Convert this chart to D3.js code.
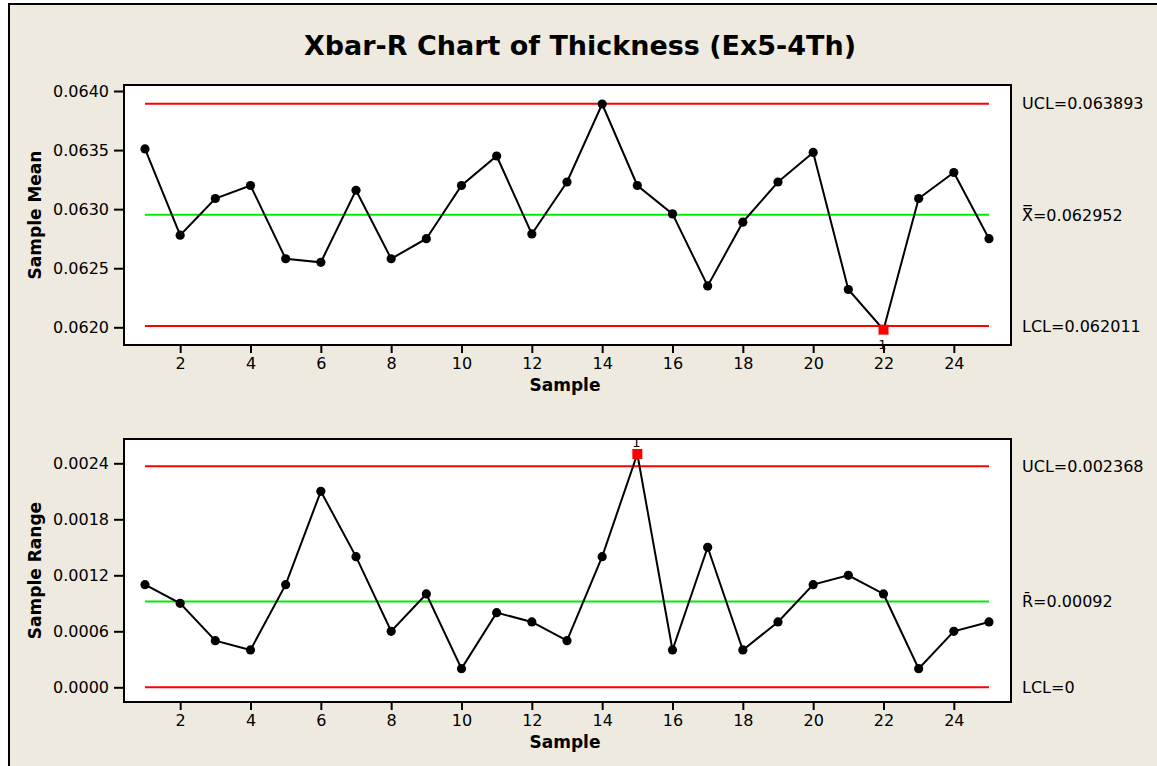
<!DOCTYPE html>
<meta charset="utf-8">
<style>
body { margin: 0; background: #fff; }
text { font-family: "DejaVu Sans", Verdana, sans-serif; fill: #000; }
.tick text { font-size: 16px; }
.tick line { stroke: #000; stroke-width: 2; }
.frame { fill: #fff; stroke: #000; stroke-width: 2; }
.limit { stroke: #ff0000; stroke-width: 2; }
.center { stroke: #00ee00; stroke-width: 2; }
.line { fill: none; stroke: #000; stroke-width: 2; }
.lbl { font-size: 16px; }
.axlbl { font-size: 17px; font-weight: bold; }
</style>
<body>
<div id="chart"></div>
<script src="https://d3js.org/d3.v7.min.js"></script>
<script>
// sample numbers
var samples = [1,2,3,4,5,6,7,8,9,10,11,12,13,14,15,16,17,18,19,20,21,22,23,24,25];
// sample means (Xbar)
var means = [0.06351, 0.06278, 0.06309, 0.06320, 0.06258, 0.06255, 0.06316, 0.06258, 0.06275, 0.06320,
             0.06345, 0.06279, 0.06323, 0.06389, 0.06320, 0.06296, 0.06235, 0.06289, 0.06323, 0.06348,
             0.06232, 0.06198, 0.06309, 0.06331, 0.06275];
// sample ranges (R)
var ranges = [0.0011, 0.0009, 0.0005, 0.0004, 0.0011, 0.0021, 0.0014, 0.0006, 0.0010, 0.0002,
              0.0008, 0.0007, 0.0005, 0.0014, 0.0025, 0.0004, 0.0015, 0.0004, 0.0007, 0.0011,
              0.0012, 0.0010, 0.0002, 0.0006, 0.0007];
// control limits
var xbarLimits = { ucl: 0.063893, cl: 0.062952, lcl: 0.062011 };
var rLimits = { ucl: 0.002368, cl: 0.00092, lcl: 0 };
var xTicks = [2,4,6,8,10,12,14,16,18,20,22,24];
var meanTicks = [0.0620, 0.0625, 0.0630, 0.0635, 0.0640];
var rangeTicks = [0.0000, 0.0006, 0.0012, 0.0018, 0.0024];

var W = 1157, H = 766;
var svg = d3.select("#chart").append("svg")
    .attr("width", W).attr("height", H);

// beige background panel with border
svg.append("rect")
    .attr("x", 9).attr("y", 4).attr("width", W + 20).attr("height", H + 20)
    .attr("fill", "#eeeae0").attr("stroke", "#000").attr("stroke-width", 2);

svg.append("text")
    .attr("x", 580).attr("y", 55)
    .attr("text-anchor", "middle")
    .attr("textLength", 552).attr("lengthAdjust", "spacingAndGlyphs")
    .style("font-size", "26px").style("font-weight", "bold")
    .text("Xbar-R Chart of Thickness (Ex5-4Th)");

var xScale = d3.scaleLinear().domain([1, 25]).range([145, 989]);

function panel(opt) {
    var g = svg.append("g");
    var y = d3.scaleLinear().domain(opt.domain).range(opt.range);

    g.append("rect").attr("class", "frame")
        .attr("x", 124).attr("y", opt.top)
        .attr("width", 887).attr("height", opt.bottom - opt.top);

    g.append("g")
        .attr("transform", "translate(124,0)")
        .call(d3.axisLeft(y).tickValues(opt.ticks).tickFormat(d3.format(".4f"))
            .tickSize(10).tickPadding(5).tickSizeOuter(0))
        .call(function(a) { a.select(".domain").remove(); a.selectAll("text").attr("font-family", null).attr("font-size", null); });

    g.append("g")
        .attr("transform", "translate(0," + opt.bottom + ")")
        .call(d3.axisBottom(xScale).tickValues(xTicks)
            .tickSize(8).tickPadding(5).tickSizeOuter(0))
        .call(function(a) { a.select(".domain").remove(); a.selectAll("text").attr("font-family", null).attr("font-size", null); });

    // limit + center lines
    [["ucl", "limit"], ["lcl", "limit"], ["cl", "center"]].forEach(function(k) {
        g.append("line").attr("class", k[1])
            .attr("x1", xScale(samples[0])).attr("x2", xScale(samples[samples.length - 1]))
            .attr("y1", y(opt.limits[k[0]])).attr("y2", y(opt.limits[k[0]]));
    });

    var line = d3.line()
        .x(function(d, i) { return xScale(samples[i]); })
        .y(function(d) { return y(d); });
    g.append("path").datum(opt.values).attr("class", "line").attr("d", line);

    var out = function(d) { return d > opt.limits.ucl || d < opt.limits.lcl; };

    g.selectAll(".dot")
        .data(opt.values.map(function(v, i) { return { v: v, s: samples[i] }; }).filter(function(d) { return !out(d.v); }))
      .enter().append("circle")
        .attr("cx", function(d) { return xScale(d.s); })
        .attr("cy", function(d) { return y(d.v); })
        .attr("r", 4.6).attr("fill", "#000");

    var bad = opt.values.map(function(v, i) { return { v: v, s: samples[i] }; }).filter(function(d) { return out(d.v); });
    g.selectAll(".bad").data(bad).enter().append("rect")
        .attr("x", function(d) { return xScale(d.s) - 5; })
        .attr("y", function(d) { return y(d.v) - 5; })
        .attr("width", 10).attr("height", 10).attr("fill", "#ff0000");
    g.selectAll(".badlbl").data(bad).enter().append("text")
        .attr("x", function(d) { return xScale(d.s) - 1; })
        .attr("y", function(d) { return d.v < opt.limits.lcl ? y(d.v) + 19 : y(d.v) - 7; })
        .attr("text-anchor", "middle")
        .style("font-size", "13px")
        .text("1");

    // right-side labels
    var labels = [[opt.limits.ucl, opt.uclText], [opt.limits.cl, opt.clText], [opt.limits.lcl, opt.lclText]];
    labels.forEach(function(l) {
        g.append("text").attr("class", "lbl")
            .attr("x", 1022).attr("y", y(l[0]))
            .attr("dy", "0.36em")
            .text(l[1]);
    });

    g.append("text").attr("class", "axlbl")
        .attr("transform", "translate(41," + ((opt.top + opt.bottom) / 2) + ") rotate(-90)")
        .attr("text-anchor", "middle")
        .text(opt.yLabel);

    g.append("text").attr("class", "axlbl")
        .attr("x", 565).attr("y", opt.bottom + 46)
        .attr("text-anchor", "middle")
        .text("Sample");
}

panel({
    values: means, limits: xbarLimits, ticks: meanTicks,
    domain: [0.0620, 0.0640], range: [327.3, 91],
    top: 85, bottom: 345,
    yLabel: "Sample Mean",
    uclText: "UCL=0.063893", clText: "X\u033F=0.062952", lclText: "LCL=0.062011"
});

panel({
    values: ranges, limits: rLimits, ticks: rangeTicks,
    domain: [0, 0.0024], range: [687.3, 463.3],
    top: 439, bottom: 702,
    yLabel: "Sample Range",
    uclText: "UCL=0.002368", clText: "R\u0304=0.00092", lclText: "LCL=0"
});
</script>
</body>
